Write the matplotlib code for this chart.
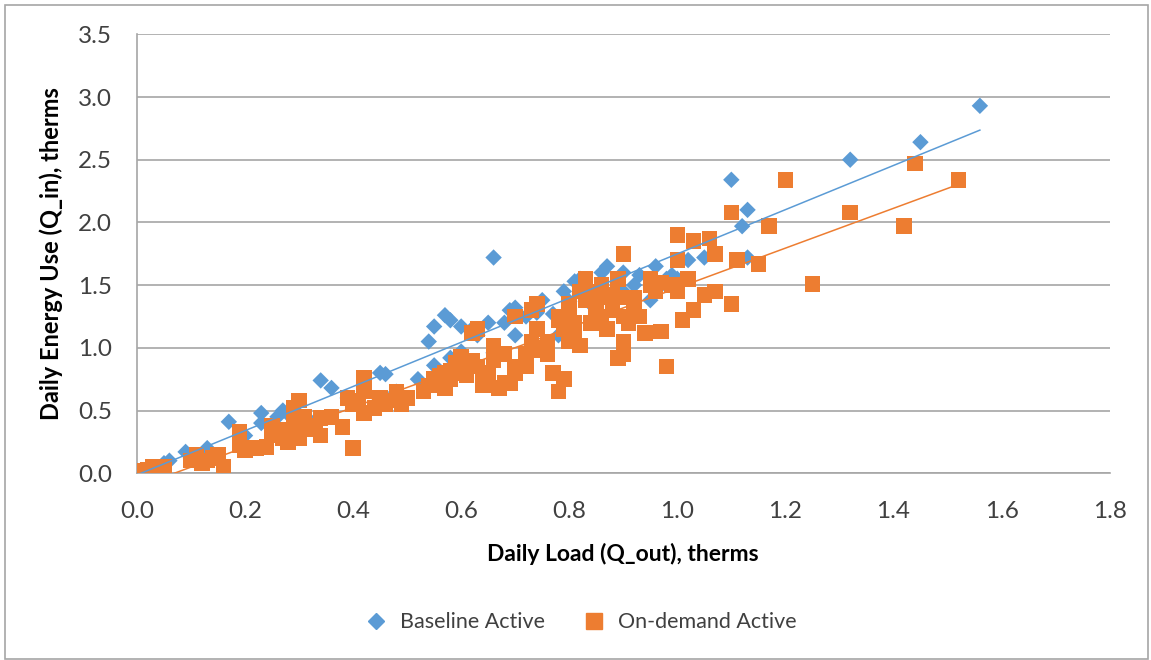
import numpy as np
import matplotlib
matplotlib.use("Agg")
import matplotlib.pyplot as plt
from matplotlib.patches import Rectangle
from matplotlib.lines import Line2D

# ---- data ----
baseline_x = [0.00, 0.02, 0.05, 0.06, 0.09, 0.12, 0.13, 0.17, 0.20, 0.23, 0.23, 0.26, 0.28,
              0.33, 0.34, 0.36, 0.39, 0.42, 0.45, 0.46, 0.47, 0.48, 0.54, 0.55, 0.55, 0.57,
              0.58, 0.58, 0.60, 0.60, 0.62, 0.63, 0.65, 0.66, 0.66, 0.68, 0.69, 0.70, 0.70,
              0.72, 0.75, 0.77, 0.78, 0.79, 0.80, 0.81, 0.82, 0.85, 0.87, 0.88, 0.90, 0.92,
              0.93, 0.95, 0.96, 0.97, 0.99, 1.00, 1.02, 1.05, 1.10, 1.12, 1.13, 1.13, 1.32,
              1.45, 1.56, 0.10, 0.27, 0.52, 0.74, 0.84, 0.86, 0.90, 0.98]
baseline_y = [0.01, 0.02, 0.08, 0.10, 0.17, 0.15, 0.20, 0.41, 0.30, 0.48, 0.40, 0.45, 0.47,
              0.42, 0.74, 0.68, 0.60, 0.65, 0.80, 0.79, 0.60, 0.65, 1.05, 0.86, 1.17, 1.26,
              1.22, 0.92, 1.17, 0.97, 1.15, 1.10, 1.20, 1.72, 0.96, 1.20, 1.30, 1.32, 1.10,
              1.25, 1.38, 1.27, 1.10, 1.45, 1.37, 1.53, 1.55, 1.40, 1.65, 1.40, 1.60, 1.50,
              1.58, 1.38, 1.65, 1.50, 1.58, 1.55, 1.70, 1.72, 2.34, 1.97, 2.10, 1.72, 2.50,
              2.64, 2.93, 0.12, 0.50, 0.75, 1.28, 1.35, 1.60, 1.45, 1.55]

ondemand_x = [0.01, 0.02, 0.03, 0.04, 0.03, 0.10, 0.11, 0.12, 0.14, 0.15, 0.16, 0.19, 0.19,
              0.20, 0.22, 0.24, 0.25, 0.25, 0.27, 0.28, 0.29, 0.29, 0.30, 0.30, 0.31, 0.30,
              0.33, 0.34, 0.34, 0.38, 0.39, 0.40, 0.40, 0.41, 0.42, 0.42, 0.42, 0.44, 0.45,
              0.46, 0.47, 0.48, 0.49, 0.50, 0.53, 0.54, 0.55, 0.56, 0.57, 0.58, 0.59, 0.60,
              0.61, 0.62, 0.63, 0.63, 0.64, 0.65, 0.66, 0.67, 0.68, 0.69, 0.70, 0.70, 0.72,
              0.73, 0.74, 0.74, 0.75, 0.76, 0.77, 0.78, 0.78, 0.79, 0.80, 0.80, 0.81, 0.82,
              0.83, 0.83, 0.84, 0.85, 0.86, 0.87, 0.87, 0.88, 0.89, 0.90, 0.90, 0.90, 0.90,
              0.92, 0.93, 0.94, 0.95, 0.96, 0.97, 0.98, 0.99, 1.00, 1.00, 1.01, 1.02, 1.03,
              1.03, 1.05, 1.06, 1.07, 1.07, 1.10, 1.10, 1.11, 1.15, 1.17, 1.20, 1.25, 1.32,
              1.42, 1.44, 1.52,
              0.55, 0.57, 0.58, 0.60, 0.62, 0.64, 0.66, 0.68, 0.70, 0.72, 0.73, 0.74, 0.76,
              0.78, 0.79, 0.80, 0.81, 0.82, 0.84, 0.85, 0.86, 0.88, 0.89, 0.90, 0.91, 0.92,
              0.95, 0.97, 1.00, 0.05, 0.02, 0.11, 0.13, 0.21, 0.26, 0.27, 0.28, 0.32, 0.36]
ondemand_y = [0.02, 0.03, 0.01, 0.04, 0.05, 0.10, 0.15, 0.08, 0.12, 0.15, 0.05, 0.33, 0.22,
              0.18, 0.20, 0.21, 0.38, 0.30, 0.28, 0.25, 0.40, 0.52, 0.33, 0.58, 0.45, 0.28,
              0.38, 0.30, 0.44, 0.37, 0.60, 0.20, 0.55, 0.58, 0.48, 0.65, 0.76, 0.52, 0.60,
              0.55, 0.58, 0.65, 0.55, 0.60, 0.65, 0.70, 0.75, 0.78, 0.80, 0.82, 0.88, 0.93,
              0.78, 1.12, 1.15, 0.85, 0.70, 0.80, 1.02, 0.68, 0.95, 0.72, 1.25, 0.85, 0.95,
              1.05, 1.35, 1.15, 0.98, 1.05, 0.80, 1.22, 0.65, 0.75, 1.25, 1.05, 1.10, 1.45,
              1.55, 1.38, 1.20, 1.30, 1.50, 1.15, 1.40, 1.30, 0.92, 1.75, 1.25, 0.95, 1.05,
              1.40, 1.25, 1.12, 1.55, 1.45, 1.13, 0.85, 1.50, 1.90, 1.70, 1.22, 1.55, 1.85,
              1.30, 1.42, 1.87, 1.75, 1.45, 1.35, 2.08, 1.70, 1.67, 1.97, 2.34, 1.51, 2.08,
              1.97, 2.47, 2.34,
              0.72, 0.68, 0.75, 0.80, 0.90, 0.75, 0.90, 0.72, 0.80, 0.85, 1.30, 1.00, 0.95,
              1.25, 1.15, 1.35, 1.20, 1.02, 1.45, 1.35, 1.25, 1.42, 1.55, 1.40, 1.20, 1.30,
              1.50, 1.52, 1.45, 0.05, 0.00, 0.12, 0.10, 0.20, 0.33, 0.35, 0.30, 0.35, 0.45]

series_names = ["Baseline Active", "On-demand Active"]
x_ticks = [0.0, 0.2, 0.4, 0.6, 0.8, 1.0, 1.2, 1.4, 1.6, 1.8]
y_ticks = [0.0, 0.5, 1.0, 1.5, 2.0, 2.5, 3.0, 3.5]

BLUE = "#5B9BD5"
ORANGE = "#ED7D31"
FONT = ["Lato", "DejaVu Sans"]

plt.rcParams["font.family"] = FONT

fig = plt.figure(figsize=(11.51, 6.60), dpi=100)
ax = fig.add_axes([0.119, 0.283, 0.845, 0.665])

bx, by = np.array(baseline_x), np.array(baseline_y)
ox, oy = np.array(ondemand_x), np.array(ondemand_y)

# trendlines (least squares fit over data range)
for xs, ys, c in [(bx, by, BLUE), (ox, oy, ORANGE)]:
    k, b = np.polyfit(xs, ys, 1)
    xx = np.array([xs.min(), xs.max()])
    ax.plot(xx, k * xx + b, color=c, lw=1.1, zorder=4)

ax.scatter(ox, oy, marker="s", s=125, color=ORANGE, edgecolors="none", zorder=3)
ax.scatter(bx, by, marker="D", s=70, color=BLUE, edgecolors="none", zorder=2)

ax.set_xlim(0, 1.8)
ax.set_ylim(0, 3.5)
ax.set_xticks(x_ticks)
ax.set_yticks(y_ticks)
ax.set_xticklabels([f"{v:.1f}" for v in x_ticks])
ax.set_yticklabels([f"{v:.1f}" for v in y_ticks])
ax.tick_params(axis="x", length=0, labelsize=17.5, colors="#404040", pad=20)
ax.tick_params(axis="y", length=0, labelsize=17.5, colors="#404040", pad=18)
ax.grid(axis="y", color="#A6A6A6", lw=1.2)
ax.set_axisbelow(True)
for s in ["top", "right"]:
    ax.spines[s].set_visible(False)
for s in ["left", "bottom"]:
    ax.spines[s].set_color("#A6A6A6")
    ax.spines[s].set_linewidth(1.2)

ax.set_xlabel("Daily Load (Q_out), therms", fontsize=16.5, fontweight="bold", labelpad=15)
ax.set_ylabel("Daily Energy Use (Q_in), therms", fontsize=17, fontweight="bold", labelpad=11)

handles = [Line2D([], [], marker="D", ls="none", color=BLUE, markersize=8),
           Line2D([], [], marker="s", ls="none", color=ORANGE, markersize=11)]
fig.legend(handles, series_names, loc="center", bbox_to_anchor=(0.5, 0.057),
           ncol=2, frameon=False, fontsize=15.5, handletextpad=0.1, columnspacing=1.3,
           labelcolor="#404040")

fig.add_artist(Rectangle((0.004, 0.002), 0.993, 0.99, transform=fig.transFigure,
                         fill=False, edgecolor="#A6A6A6", lw=1.2))

fig.savefig("out.png", dpi=100, facecolor="white")
